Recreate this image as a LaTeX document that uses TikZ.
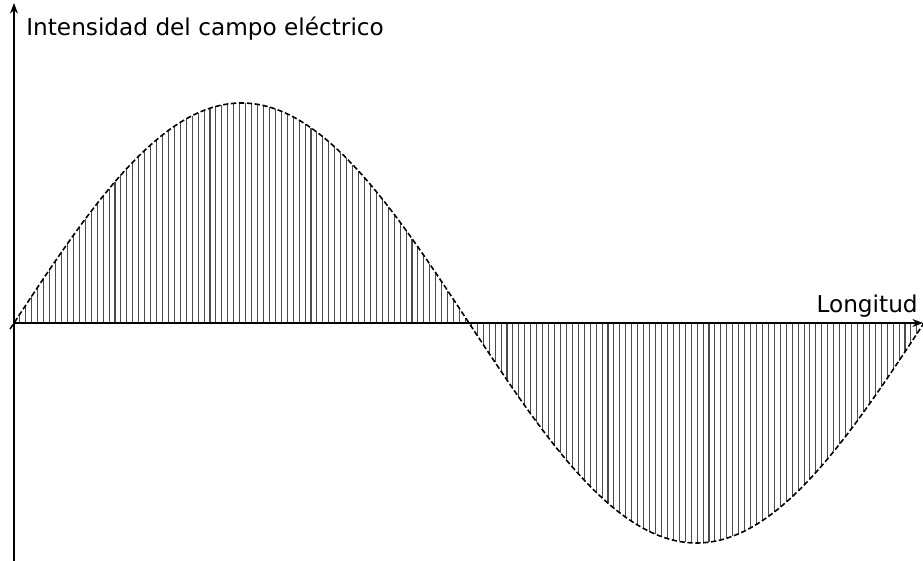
\documentclass[tikz,border=0pt]{standalone}
\usepackage{fontspec}
\setmainfont{DejaVu Sans}
\usetikzlibrary{arrows.meta}
\begin{document}
\begin{tikzpicture}[x=0.02cm, y=0.02cm, every node/.style={font=\fontsize{13.2}{15}\selectfont, inner sep=0pt}]
    \useasboundingbox (-14,-238) rectangle (909,323);

    % Hatching between the wave and the axis
    \foreach \i in {1,...,153} {
        \pgfmathsetmacro{\xx}{\i*5.94}
        \draw[black!70, line width=0.6pt] (\xx,0) -- (\xx,{220*sin(\xx/910*360)});
    }

    % Axes
    \draw[line width=0.9pt, -{Stealth[length=6pt, width=4.5pt]}] (0,-240) -- (0,320);
    \draw[line width=0.9pt, -{Stealth[length=6pt, width=4.5pt]}] (0,0) -- (909,0);

    % The wave itself
    \draw[line width=0.9pt, dash pattern=on 3pt off 1.5pt, domain=-4:910, samples=200, smooth]
        plot (\x,{220*sin(\x/910*360)});

    \node[anchor=base west] (ylabel) at (12,287) {Intensidad del campo eléctrico};
    \node[anchor=base east] (xlabel) at (904,10) {Longitud};
\end{tikzpicture}
\end{document}
